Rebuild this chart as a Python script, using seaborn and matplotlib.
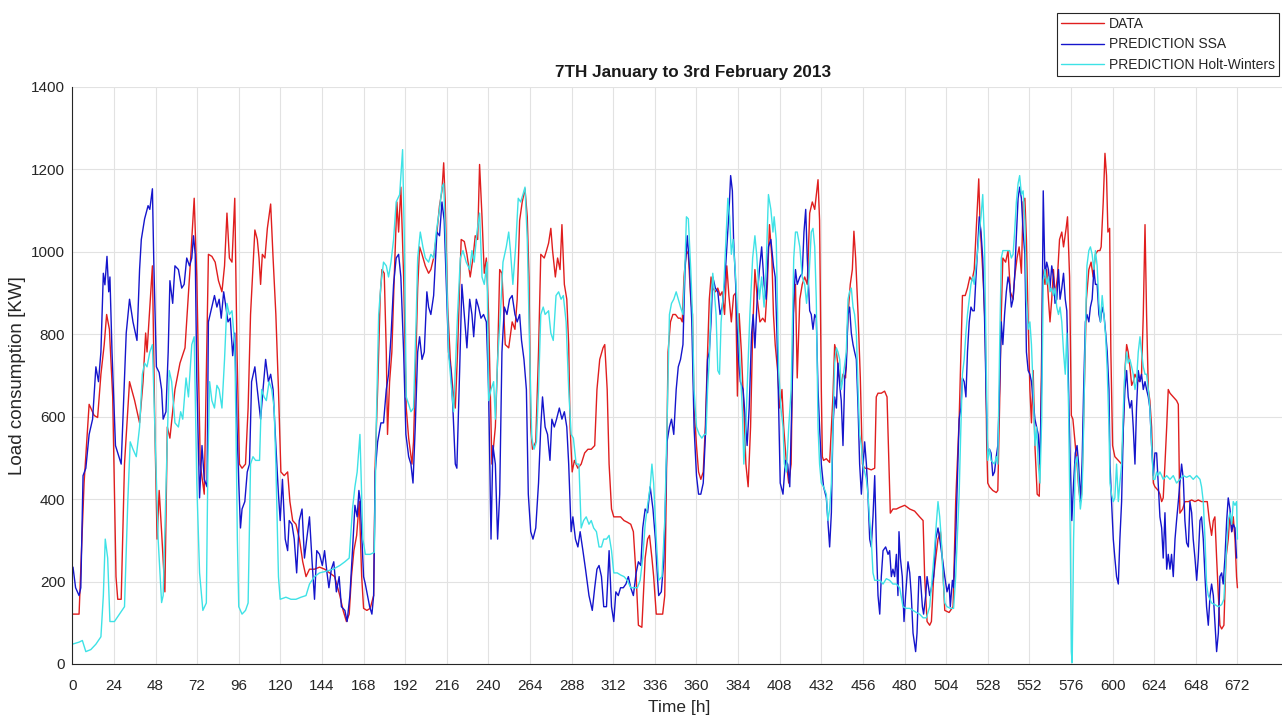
import matplotlib
matplotlib.use("Agg")
import matplotlib.pyplot as plt
import seaborn as sns

# values (hour, kW)
data_hours = [
    0, 3.9, 6.8, 9.7, 12.6, 14.6, 16.5, 18.4, 19.8, 21.4, 23.3, 25.2, 26.2, 28.2, 30.1, 33, 35.9, 38.8, 40.8, 42.3,
    43.1, 44.7, 46.2, 47.6, 48.9, 50.1, 51.5, 53.4, 54.8, 56.3, 59.2, 62.1, 65, 68, 70.3, 71.8, 73.8, 76.1,
    78.5, 80.5, 82.4, 84.3, 86.3, 87.8, 89.2, 90.6, 92.1, 93.7, 95, 96.4, 97.9, 99.9, 101.4, 102.8, 105.3, 106.7,
    107.7, 108.6, 109.6, 111.1, 112.5, 114.4, 115.8, 117.4, 118.9, 120.3, 122.2, 124.2, 125.5, 127.1, 129, 131,
    132.9, 134.8, 136.8, 139.7, 142.6, 145.5, 148.4, 151.3, 154.3, 156.2, 158.1, 159.7, 161, 162.4, 164, 165.5, 166.9,
    168, 169.9, 171.8, 173.8, 174.7, 176.1, 177.6, 178.6, 179.9, 181.1, 181.8, 183, 184.3, 185.9, 187.2, 188.2,
    189.5, 191.1, 192.6, 194, 195.9, 196.8, 197.8, 199.2, 200.3, 201.7, 203.6, 205.5, 206.8, 208.4, 210.3, 211.8,
    213.2, 214.2, 215.1, 216.5, 218, 219.5, 220.9, 222.2, 223.4, 224.3, 226.1, 227.6, 229.5, 231.1, 232.4, 233.8,
    234.9, 236.3, 237.6, 238.8, 240.1, 242, 244, 245.3, 246.5, 247.8, 249.7, 251.7,
    253.7, 255.3, 256.6, 258, 259.5, 261.1, 262.4, 263.4, 264.4, 265.4, 267.3, 268.9, 270.2, 272.2, 273.5, 274.7,
    276, 277, 278.6, 279.9, 281.3, 282.4, 283.8, 285.2, 286.3, 287.1, 288.3, 289.6, 291.6, 293.5, 295.5, 297.4,
    299.3, 301.3, 302.6, 304.2, 306.1, 307.1, 308.5, 309.6, 311, 312.3, 314.3, 316.2, 318.2, 320.1, 322.1, 323.6,
    325.2, 326.5, 328.5, 330.4, 331.8, 332.9, 334.3, 335.3, 336.8,
    338.2, 340.5, 341.7, 342.5, 343.6, 345, 346.4, 347.9, 349.5, 350.8, 351.8, 352.8, 354.2, 355.3, 356.7, 357.7,
    358.6, 360, 361.2, 362.5, 363.9, 365.1, 366.4, 367.4, 368.4, 369.4, 370.9, 372.3, 373.6, 374.8, 376.2, 377.5,
    378.7, 380.1, 381.4, 382.6, 383.6, 384.6, 385.9, 387.3, 388.5, 389.8, 391.2, 392.4, 393.7, 395.1, 396.6, 398.2,
    399.6, 400.9, 402.1, 403.5, 404.4, 405.4, 406.8, 408, 409.3, 410.3, 411.9, 413.2, 414.6, 415.8, 417.1, 418.1,
    419.6, 421, 422.4, 423.9,
    425.3, 426.8, 428.2, 430.1, 431, 432, 432.6, 433.3, 434.9, 436.8, 437.8, 438.7, 439.7, 440.7, 442.2, 443.5,
    444.5, 446, 447.4, 448.7, 449.9, 450.8, 451.8, 453.2, 454.5, 455.7, 457, 458.3, 460.8, 462.8, 463.7, 464.7,
    466.6, 468.5, 469.9, 471, 471.8, 473.3, 475.3, 477.2, 480.1, 483, 485.8, 488.7, 490.7, 491.6, 493, 494.5,
    495.5, 496.8, 498, 499.3, 500.7, 501.8, 503.2, 505.7, 508, 509.5,
    511.5, 512.5, 513.4, 515, 516.3, 517.7, 518.9, 520.2, 521.6, 522.8, 523.5, 524.7, 525.5, 526.6, 527.4, 528,
    529, 530.9, 532.9, 533.8, 534.8, 535.8, 536.7, 538.3, 539.7, 541, 542.6, 543.5, 544.9, 546.1, 547.4, 548.4,
    549.4, 550.3, 551.3, 552.3, 553.2, 554.2, 555.2, 556.5, 557.7, 558.5, 559.7, 561, 562, 563, 563.9, 564.9,
    565.9, 566.8, 568.2, 569.4, 570.7, 571.7, 573.2, 574, 575.2, 576.2, 577.1, 578.5, 579.5, 580.4, 581.4, 582.4,
    583.7, 584.9, 586.3, 587.6, 588.8, 590.1, 591.5, 592.7, 593.4, 594.6, 595.6, 596.5, 597.3, 598.3,
    599, 600, 601.3, 603.3, 605.2, 606.2, 607.1, 608.1, 609, 610, 611, 611.9, 612.9, 613.8, 615.4, 616.7, 617.7,
    618.7, 619.6, 620.6, 621.5, 622.5, 623.5, 624.4, 626.3, 627.3, 628.3, 629.2, 630.2, 631.2, 632.1, 633.1, 635,
    636.9, 637.9, 638.8, 640.4, 641.7, 643.7, 645.6, 647.5, 649.4, 651.3, 653.3, 654.6, 655.8, 657.1, 658.1, 659,
    660, 661, 661.9, 662.9, 664.2, 665.4, 666.7, 667.7, 668.7, 669.6, 670.6, 671.5, 672,
]
data_kw = [
    121, 121, 440, 630, 603, 598, 703, 775, 848, 812, 648, 212, 157, 157, 485, 685, 640, 585, 685, 803,
    757, 866, 966, 575, 303, 421, 321, 175, 575, 548, 666, 730, 767, 966, 1130, 939, 485, 412,
    994, 989, 975, 930, 903, 966, 1094, 985, 975, 1130, 757, 485, 475, 485, 621, 848, 1053, 1030,
    985, 921, 994, 985, 1057, 1116, 985, 848, 666, 466, 457, 466, 394, 348, 339, 303,
    248, 212, 230, 230, 235, 230, 221, 212, 166, 130, 103, 121, 212, 275, 312, 394, 212,
    135, 130, 135, 166, 485, 666, 894, 957, 948, 757, 557, 685, 757, 966, 1121, 1048,
    1157, 939, 621, 548, 485, 539, 685, 912, 1012, 994, 966, 948, 957, 985, 1048, 1112,
    1148, 1216, 1121, 866, 739, 666, 621, 757, 921, 1030, 1025, 994, 939, 985, 1039, 1030,
    1212, 1085, 948, 985, 848, 485, 575, 739, 957, 948, 775, 767,
    830, 812, 885, 1076, 1121, 1153, 1085, 939, 575, 521, 539, 757, 994, 985, 1003, 1021,
    1057, 1003, 939, 985, 957, 1066, 921, 885, 775, 575, 466, 494, 475, 485, 512, 521,
    521, 530, 666, 739, 767, 775, 666, 485, 376, 357, 357, 357, 348, 344, 339, 321,
    212, 94, 89, 257, 303, 312, 257, 212, 121,
    121, 121, 166, 394, 757, 830, 848, 848, 839, 839, 830, 939, 1003, 994, 885, 848,
    621, 530, 466, 448, 466, 575, 757, 885, 939, 912, 903, 912, 894, 903, 848, 966,
    894, 830, 894, 900, 650, 850, 757, 621, 485, 430, 575, 803, 957, 885, 830, 839,
    830, 921, 1066, 985, 848, 775, 712, 621, 666, 575, 485, 439, 485, 848, 921, 694,
    885, 921, 939, 921,
    1094, 1121, 1103, 1175, 1076, 666, 503, 494, 498, 489, 575, 648, 775, 757, 703, 676,
    703, 694, 848, 921, 957, 1050, 985, 848, 694, 485, 475, 475, 471, 475, 648, 657,
    657, 662, 648, 485, 366, 376, 376, 380, 385, 376, 371, 357, 348, 212, 103, 94,
    103, 212, 257, 303, 321, 257, 130, 125, 139, 394,
    594, 757, 894, 894, 912, 939, 930, 957, 1076, 1177, 1076, 985, 921, 803, 530, 439,
    430, 421, 416, 421, 621, 848, 985, 975, 1003, 903, 885, 939, 985, 1012, 948, 1121,
    1130, 1030, 830, 666, 585, 712, 530, 412, 407, 575, 957, 921, 957, 885, 830, 885,
    957, 894, 939, 1030, 1048, 1012, 1057, 1085, 939, 603, 594, 530, 485, 430, 394, 439,
    666, 885, 957, 975, 939, 994, 1003, 1003, 1012, 1121, 1239, 1185, 1048, 1057,
    757, 530, 503, 494, 485, 575, 712, 775, 757, 721, 676, 685, 703, 694, 685, 703, 848,
    1066, 848, 666, 639, 575, 439, 430, 421, 412, 394, 403, 485, 575, 666, 657, 648,
    639, 630, 366, 376, 394, 394, 398, 394, 398, 394, 394, 394, 348, 312, 348, 357,
    257, 166, 94, 85, 94, 257, 303, 366, 321, 357, 303, 212, 185,
]

ssa_hours = [
    0.4, 1.9, 3.9, 4.9, 6.2, 7.8, 9.7, 11.7, 13.6, 15.1, 16.5, 17.9, 18.8, 20, 21, 21.7, 22.9, 24.9, 26.2, 28.2,
    31.1, 33, 35, 37.3, 38.8, 39.8, 41.7, 43.7, 44.7, 46.2, 47, 48.5, 50.1, 51.5, 52.4, 54, 55.3, 56.3, 57.9,
    59.2, 61.2, 63.1, 64.5, 66, 67.6, 68.9, 69.9, 70.9, 71.8, 73.4, 74.8, 76.1, 77.7,
    78.5, 80.5, 82, 83.4, 84.7, 85.9, 87.3, 88.6, 89.8, 91.1, 92.5, 93.7, 95, 96, 97, 97.9, 99.5, 100.9, 102.2,
    103.4, 105.3, 106.7, 108.6, 110, 111.5, 113.1, 114.4, 115.8, 117.4, 118.9, 119.9, 121.2, 122.8, 124.2, 125.1,
    126.7, 128, 129.4, 130.9, 132.5, 133.9, 135.2, 136.8, 138.3, 139.7, 141, 142.6, 144.2, 145.5, 146.9, 148,
    149.4, 150.8, 152.3, 153.9, 155.2, 157.2, 158.5, 160.1, 161.6, 163, 164.3, 165.3,
    166.1, 168, 169, 170.3, 171.5, 172.8, 173.8, 174.7, 176.1, 178, 179.5, 181.1, 182.4, 183.8, 185.3, 186.8,
    188.2, 189.5, 191.1, 192.4, 194, 195.3, 196.5, 197.8, 199.2, 200.3, 201.7, 203, 204.5, 205.5, 206.8, 208.4,
    210.3, 211.8, 213.2, 214.5, 215.7, 217, 218.4, 219.5, 220.9, 221.8, 223.4, 224.7, 226.1, 227.6, 229.2, 230.5,
    231.5, 233, 234.3, 235.7, 237.2, 238.8, 240.1, 241.5, 242.6, 244, 245.3, 246.5, 247.8, 249.2, 250.7, 252.2,
    253.7, 255.3, 256.6, 258, 259.1, 260.5, 261.9, 263, 264.4, 265.7, 267.3, 268.9, 270.2, 271.2, 272.7, 274.1,
    275.5, 276.6, 278, 279.3, 280.9, 282.4, 283.8, 285.2, 286.3, 287.7, 288.7, 290.2, 291.6, 292.9, 294.5, 296,
    298, 299.9, 301.3, 302.6, 303.8, 305.2, 306.5, 308.1, 309.6, 311, 312.3, 313.5, 314.9, 316.2, 317.8, 319.3,
    320.7, 322.1, 323.6, 325.2, 326.5, 327.9, 329, 330.4, 331.8, 333.3, 334.9, 336.3, 337.6,
    338.2, 339.7, 341.1, 342.1, 343, 344.4, 345.6, 346.9, 348.3, 349.5, 350.8, 352.2, 353.4, 354.7, 356.1, 357.3,
    358.6, 360, 361.2, 362.5, 363.9, 365.1, 366.4, 367.4, 368.4, 369.4, 370.9, 372.3, 373.6, 374.8, 376.2, 377.5,
    378.7, 379.7, 380.7, 381.4, 382.6, 384, 385.3, 386.9, 388.5, 389.2, 390.4, 391.8, 392.7, 393.7, 395.1, 396.3,
    397.6, 399, 400.2, 401.5, 402.9, 404.4, 405.4, 406.4, 407.4, 408.3, 409.9, 411.3, 412.6, 413.8, 415.2, 416.1,
    417.1, 418.1, 419.6, 421, 422, 423, 423.9,
    425.3, 426.2, 427.2, 428.2, 429.1, 430.1, 431, 432, 433.3, 434.9, 435.8, 436.8, 437.8, 438.7, 439.7, 440.7,
    441.6, 442.6, 443.5, 444.5, 445.5, 446.4, 447.4, 448.3, 449.3, 450.3, 451.2, 452.2, 453.2, 454.1, 455.1, 456,
    457, 458, 458.9, 459.9, 460.8, 461.8, 462.8, 463.7, 464.7, 465.7, 466.6, 467.6, 469.1, 470.5, 471.4, 472.4,
    473.3, 474.3, 475.3, 476.2, 476.8, 477.6, 478.7, 479.7, 480.6, 482, 483, 483.9, 484.9, 486.4, 487.2, 488.3,
    489.1, 490.3, 491, 492.2, 493, 494.5, 495.5, 496.8, 498, 499.3, 500.3, 501.8, 503.2, 504.5, 505.7, 506.4,
    507.6, 508.3, 509.5,
    511.5, 512.5, 513.4, 514.4, 515.4, 516.3, 517.3, 518.3, 519.3, 520.2, 521.2, 522.2, 523.1, 524.1, 525.1, 526.1,
    527, 528, 529, 529.9, 530.9, 531.9, 532.9, 533.8, 534.8, 535.8, 536.7, 537.7, 538.7, 539.7, 540.6, 541.6,
    542.6, 543.5, 544.5, 545.5, 546.4, 547.4, 548.4, 549.4, 550.3, 551.3, 552.3, 553.2, 554.2, 555.2, 556.2, 557.1,
    558.1, 559.1, 560, 561, 562, 563, 563.9, 564.9, 565.9, 566.8, 567.8, 568.8, 569.7, 570.7, 571.7, 572.7,
    573.6, 574.6, 575.6, 576.5, 577.5, 578.5, 579.5, 580.4, 581.4, 582.4, 583.3, 584.3, 585.2, 586.3, 587.2, 588.2,
    589.2, 590.1, 591.1, 592.1, 593, 594, 595, 596, 596.9, 597.9,
    598.5, 599.4, 600.4, 601.3, 602.3, 603.3, 604.2, 605.2, 606.2, 607.1, 608.1, 609, 610, 611, 611.9, 612.9,
    613.8, 614.8, 615.8, 616.7, 617.7, 618.7, 619.6, 620.6, 621.5, 622.5, 623.5, 624.4, 625.4, 626.3, 627.3, 628.3,
    629.2, 630.2, 631.2, 632.1, 633.1, 634, 635, 636, 636.9, 637.9, 638.8, 639.8, 640.8, 641.7, 642.7, 643.7,
    644.6, 645.6, 646.5, 647.5, 648.5, 649.4, 650.4, 651.3, 652.3, 653.3, 654.2, 655.2, 656.2, 657.1, 658.1, 659,
    660, 661, 661.9, 662.9, 663.8, 664.8, 665.8, 666.7, 667.7, 668.7, 669.6, 670.6, 671.5,
]
ssa_kw = [
    235, 185, 166, 185, 457, 475, 557, 594, 721, 685, 757, 948, 920, 989, 903, 939, 757, 530, 512, 485,
    803, 885, 830, 785, 957, 1030, 1080, 1112, 1103, 1153, 975, 721, 707, 666, 594, 612, 757, 930, 875,
    966, 957, 912, 921, 985, 966, 985, 1039, 994, 694, 403, 530, 448, 430,
    830, 866, 894, 866, 885, 839, 903, 866, 830, 839, 748, 803, 575, 439, 330, 376, 394, 466, 485,
    685, 721, 666, 594, 666, 739, 685, 703, 666, 530, 412, 348, 448, 303, 275, 348,
    339, 303, 221, 348, 376, 257, 303, 357, 248, 157, 275, 266, 239, 275, 221, 185,
    230, 248, 175, 212, 139, 130, 103, 166, 275, 385, 357, 421,
    394, 212, 194, 166, 139, 121, 166, 466, 539, 585, 585, 666, 703, 794, 921, 985,
    994, 939, 757, 557, 503, 485, 439, 575, 757, 794, 739, 757, 903, 866, 848, 894,
    1048, 1039, 1121, 1076, 921, 757, 712, 621, 485, 475, 712, 921, 848, 767, 885, 848,
    794, 885, 866, 839, 848, 830, 666, 303, 530, 485, 303, 412, 757, 866, 848, 885,
    894, 848, 830, 848, 785, 739, 666, 412, 321, 303, 330, 439, 575, 648, 575, 557,
    494, 594, 575, 594, 621, 594, 612, 575, 485, 321, 357, 303, 284, 321, 275, 230,
    166, 130, 185, 230, 239, 212, 139, 139, 275, 139, 103, 175, 166, 185, 185, 194,
    212, 185, 166, 221, 248, 239, 330, 376, 367, 430, 376, 303, 203,
    166, 175, 248, 394, 539, 575, 594, 557, 666, 721, 739, 775, 957, 1039, 957, 830,
    575, 457, 412, 412, 439, 548, 739, 757, 830, 939, 912, 903, 848, 866, 921, 1012,
    1094, 1185, 1148, 1030, 921, 757, 685, 666, 575, 530, 621, 803, 848, 767, 894, 957,
    1012, 921, 885, 1012, 1030, 966, 939, 803, 621, 439, 412, 494, 485, 430, 666, 885,
    957, 921, 939, 948, 1048, 1103, 985,
    857, 848, 812, 848, 839, 666, 575, 485, 430, 403, 348, 284, 367, 575, 648, 621,
    730, 676, 639, 530, 694, 721, 848, 866, 803, 775, 757, 739, 621, 485, 412, 475,
    539, 485, 412, 303, 284, 357, 457, 303, 166, 121, 212, 275, 284, 266, 275, 212,
    230, 212, 266, 166, 321, 257, 212, 103, 166, 248, 221, 166, 75, 30, 75, 212,
    212, 139, 121, 166, 212, 166, 185, 212, 303, 330, 303, 257, 212, 175, 194, 139,
    203, 185, 303,
    594, 621, 694, 685, 648, 757, 830, 866, 857, 857, 939, 1012, 1085, 1048, 985, 848,
    666, 503, 521, 512, 457, 466, 503, 530, 666, 830, 775, 848, 903, 939, 921, 866,
    885, 939, 1039, 1130, 1157, 1130, 1048, 994, 757, 712, 703, 685, 639, 594, 575, 557,
    485, 694, 1148, 939, 975, 957, 912, 966, 939, 875, 885, 957, 885, 912, 948, 885,
    857, 666, 485, 348, 439, 512, 530, 485, 394, 485, 666, 830, 848, 830, 866, 885,
    957, 921, 921, 848, 830, 866, 848, 803, 757, 666,
    485, 394, 303, 257, 212, 194, 303, 394, 575, 666, 712, 648, 621, 639, 575, 485,
    621, 712, 685, 703, 666, 685, 666, 648, 621, 530, 457, 512, 512, 439, 357, 330,
    257, 367, 230, 266, 230, 266, 212, 303, 348, 394, 439, 485, 448, 348, 294, 284,
    394, 367, 303, 257, 203, 257, 348, 357, 303, 212, 139, 94, 166, 194, 166, 103,
    30, 75, 212, 221, 194, 257, 348, 403, 376, 321, 339, 330, 257,
]

hw_hours = [
    0, 3.9, 5.8, 7.8, 10.7, 13.6, 16.5, 17.9, 19, 20.4, 21.7, 24.3, 27.2, 30.1, 32, 33.4, 35, 36.9, 38.8, 40.4,
    41.7, 43.1, 44.7, 46.2, 47.6, 49.5, 51.5, 52.4, 54.4, 55.9, 57.3, 59.2, 61.2, 62.5, 63.7, 65.6, 67, 68.9,
    70.3, 71.8, 73.4, 75.3, 77.3, 78.2,
    79.2, 80.5, 82, 83.4, 84.7, 86.3, 87.8, 89.2, 90.6, 92.1, 93.7, 94.4, 95.2, 96, 97.9, 99.9, 101.4, 102.8,
    104.2, 105.7, 108, 109.2, 110.6, 111.9, 113.5, 115, 116.4, 117.4, 118.9, 119.9, 123.2, 126.1, 129, 131.9,
    134.8, 136.8, 139.7, 142.6, 146.5, 150.4, 154.3, 157.2, 159.7, 161.6, 163, 164.3, 165.9,
    167.6, 169, 171.8, 174.2, 175.3, 176.7, 178, 179.5, 181.1, 182.4, 183.8, 185.3, 186.8, 188.8, 189.5, 190.5,
    191.5, 192.6, 194, 195.3, 196.8, 198.4, 199.2, 200.7, 202.2, 203.6, 205.5, 206.8, 208.4, 209.9, 211.8, 213.2,
    214.2, 215.7, 217, 218.4, 219.9, 220.9, 222.2, 223.8, 225.3, 227.2, 229.2, 230.5, 231.8, 233.4, 234.9, 236.3,
    237.6, 239.2, 240.1, 241.5, 243, 244, 245.3, 246.9, 248.4, 250.3, 251.7,
    252.7, 254.1, 255.7, 257.2, 258.6, 259.9, 261.1, 262.4, 263.8, 265, 266.3, 267.7, 268.9, 270.2, 271.6, 272.7,
    274.7, 276, 277.4, 279, 280.5, 281.9, 283.2, 284.8, 286.3, 287.7, 289, 290.6, 292.2, 293.5, 294.9, 296.4,
    298, 299.3, 300.7, 302.3, 303.8, 305.2, 306.5, 308.1, 309.6, 311, 312.3, 314.3, 316.2, 318.2, 320.1, 322.1,
    324, 325.9, 327.5, 329, 330.4, 331.8, 333.3, 334.3, 335.3, 336.8,
    338.2, 340.1, 341.7, 343, 344.4, 345.6, 346.9, 348.3, 349.5, 350.8, 352.2, 353.4, 354.2, 355.3, 356.7, 357.7,
    358.6, 360, 361.6, 363.1, 364.5, 365.5, 366.4, 367.4, 368.4, 369.4, 370.3, 371.3, 372.3, 373.3, 374.2, 375.6,
    376.8, 378.1, 379.1, 380.1, 381.1, 382.6, 384, 385.3, 386.5, 387.3, 388.5, 389.2, 390.8, 392.4, 393.7, 394.7,
    396.3, 397.6, 399, 400.2, 401.5, 402.9, 404.1, 404.8, 406, 407.4, 408.7, 409.9, 410.7, 411.9, 413.2, 414.6,
    416.1, 417.1, 418.1, 419.6, 421, 422.4, 423.5, 424.9,
    426.2, 427.2, 428.2, 429.1, 430.1, 431, 432, 433.3, 434.9, 435.8, 436.8, 437.8, 438.7, 439.7, 440.7, 441.6,
    442.6, 443.5, 444.5, 446.4, 447.4, 448.3, 449.3, 450.3, 451.2, 452.2, 453.2, 454.1, 455.1, 456, 457, 458,
    458.9, 459.9, 460.8, 461.8, 462.8, 465.7, 467.6, 469.5, 471.4, 473.3, 475.3, 477.2, 479.1, 481, 483, 484.9,
    486.8, 488.7, 490.7, 492.6, 494.5, 496, 497.4, 498.3, 499.3, 500.3, 501.2, 502.2, 503.2, 504.5, 506.4, 508.3,
    509.5,
    511.5, 512.5, 513.4, 514.4, 515.4, 516.3, 517.3, 518.3, 519.3, 520.2, 521.2, 522.2, 523.1, 524.1, 525.1, 526.1,
    527, 528, 529, 529.9, 531.9, 532.9, 533.8, 534.8, 535.8, 536.7, 538.7, 540.6, 541.6, 542.6, 543.5, 544.5,
    545.5, 546.4, 547.4, 548.4, 549.4, 550.3, 551.3, 552.3, 553.2, 554.2, 555.2, 556.2, 557.1, 558.1, 559.1, 560,
    561, 562, 563, 563.9, 564.9, 565.9, 566.8, 567.8, 568.8, 569.7, 570.7, 571.7, 572.7, 573.6, 574.6, 575.6,
    576.2, 576.7, 577.5, 578.5, 579.5, 580.4, 581.4, 582.4, 583.3, 584.3, 585.2, 586.3, 587.2, 588.2, 589.2, 590.1,
    591.1, 592.1, 593, 594, 595, 596, 596.9, 597.9,
    598.5, 599.4, 600.4, 601.3, 602.3, 603.3, 604.2, 605.2, 606.2, 607.1, 608.1, 609, 610, 611, 611.9, 612.9,
    613.8, 614.8, 615.8, 616.7, 617.7, 618.7, 619.6, 620.6, 621.5, 622.5, 623.5, 624.4, 625.4, 626.3, 627.3, 628.3,
    629.2, 631.2, 633.1, 635, 636.9, 638.8, 640.8, 642.7, 644.6, 646.5, 648.5, 650.4, 651.3, 652.3, 653.3, 654.2,
    655.2, 657.1, 659, 661, 662.9, 664.2, 665.4, 666.7, 667.7, 668.7, 669.6, 670.6, 671.5, 672,
]
hw_kw = [
    48, 53, 57, 30, 35, 48, 66, 166, 303, 257, 103, 103, 121, 139, 394, 539, 521, 503, 575, 703,
    730, 721, 757, 775, 575, 303, 149, 166, 485, 712, 685, 585, 575, 612, 594, 694, 648, 775,
    794, 439, 221, 130, 148, 485,
    685, 639, 621, 676, 666, 621, 739, 875, 848, 857, 775, 575, 303, 139, 121, 130, 148, 485,
    503, 494, 494, 666, 648, 639, 685, 666, 621, 485, 212, 157, 162, 157, 157, 162,
    166, 194, 212, 221, 225, 230, 239, 248, 257, 376, 430, 466, 557,
    303, 266, 266, 271, 575, 848, 921, 975, 966, 939, 975, 1030, 1121, 1139, 1185, 1248,
    1030, 648, 630, 612, 621, 848, 985, 1048, 1012, 985, 975, 994, 985, 1048, 1103, 1157,
    1166, 985, 757, 685, 612, 712, 848, 985, 1003, 975, 957, 1003, 975, 1048, 1094, 939,
    921, 975, 639, 666, 685, 594, 739, 848, 975, 1012, 1048,
    1003, 921, 1012, 1130, 1121, 1139, 1157, 1030, 757, 548, 521, 539, 666, 848, 866, 848,
    857, 803, 785, 894, 903, 885, 894, 830, 666, 557, 548, 485, 485, 330, 348, 357,
    339, 348, 330, 321, 284, 284, 303, 303, 312, 275, 221, 221, 216, 212, 203, 185,
    185, 185, 203, 257, 339, 385, 430, 485, 439, 303,
    203, 212, 348, 575, 848, 875, 885, 903, 885, 866, 848, 975, 1085, 1080, 957, 848,
    666, 575, 557, 548, 557, 557, 666, 739, 875, 948, 903, 848, 712, 703, 830, 903,
    1012, 1130, 1085, 994, 1030, 939, 830, 712, 612, 485, 575, 666, 848, 985, 1039, 994,
    885, 939, 866, 966, 1139, 1103, 1048, 1085, 1030, 712, 621, 575, 485, 466, 575, 666,
    985, 1048, 1048, 1012, 939, 921, 875, 939,
    1048, 1057, 1012, 885, 575, 485, 439, 430, 412, 348, 376, 439, 575, 730, 767, 757,
    739, 666, 694, 757, 885, 903, 912, 866, 848, 803, 666, 557, 530, 485, 466, 448,
    412, 348, 303, 221, 203, 203, 194, 207, 203, 194, 194, 185, 139, 135, 135, 130,
    125, 121, 112, 112, 139, 212, 284, 339, 394, 357, 303, 212, 148, 139, 135, 135,
    212,
    412, 575, 703, 739, 803, 848, 885, 921, 939, 921, 966, 1003, 1048, 1085, 1139, 1030,
    757, 494, 521, 494, 485, 503, 485, 757, 985, 1003, 1003, 1003, 985, 994, 1048, 1121,
    1166, 1185, 1139, 1148, 1076, 885, 812, 830, 775, 666, 530, 575, 485, 439, 594, 930,
    957, 921, 939, 903, 912, 894, 912, 866, 848, 866, 830, 757, 703, 803, 621, 303,
    30, 3, 303, 485, 503, 439, 376, 412, 575, 803, 966, 1003, 1012, 994, 957, 1003,
    966, 875, 830, 894, 848, 794, 712, 575,
    439, 412, 394, 403, 485, 394, 439, 485, 621, 712, 757, 730, 739, 721, 703, 666,
    685, 757, 794, 757, 721, 703, 703, 666, 621, 530, 448, 448, 466, 457, 466, 457,
    448, 457, 448, 457, 439, 448, 457, 453, 457, 448, 457, 448, 430, 394, 303, 194,
    166, 148, 144, 139, 144, 157, 257, 348, 367, 339, 394, 385, 394, 303,
]

x_ticks = list(range(0, 673, 24))
y_ticks = list(range(0, 1401, 200))

sns.set_theme(style="white")
plt.rcParams["font.family"] = ["Liberation Sans", "DejaVu Sans"]

fig = plt.figure(figsize=(12.82, 7.2), dpi=100)
ax = fig.add_axes([0.0564, 0.0778, 0.9467, 0.8014])

sns.lineplot(x=data_hours, y=data_kw, ax=ax, color="#e01e1e", linewidth=1.0,
             label="DATA", estimator=None, sort=False)
sns.lineplot(x=ssa_hours, y=ssa_kw, ax=ax, color="#1515cc", linewidth=1.0,
             label="PREDICTION SSA", estimator=None, sort=False)
sns.lineplot(x=hw_hours, y=hw_kw, ax=ax, color="#3ee2e6", linewidth=1.0,
             label="PREDICTION Holt-Winters", estimator=None, sort=False)

ax.set_xlim(0, 700)
ax.set_ylim(0, 1400)
ax.set_xticks(x_ticks)
ax.set_yticks(y_ticks)
ax.grid(True, color="#e2e2e2", linewidth=0.8)
ax.set_axisbelow(True)
for side in ["top", "right"]:
    ax.spines[side].set_visible(False)
for side in ["left", "bottom"]:
    ax.spines[side].set_color("#262626")
    ax.spines[side].set_linewidth(0.8)
ax.tick_params(axis="both", direction="in", length=5, width=0.8, color="#262626",
               labelcolor="#262626", labelsize=11)
ax.tick_params(axis="x", pad=11)
ax.tick_params(axis="y", pad=5)

title = ax.set_title("7TH January to 3rd February 2013", fontsize=12.3, fontweight="bold",
                     color="#1a1a1a", pad=7)
title.set_x(0.5115)
ax.set_xlabel("Time [h]", fontsize=12.5, color="#262626", labelpad=5)
ax.set_ylabel("Load consumption [KW]", fontsize=13.5, color="#262626", labelpad=3.5)

handles, labels = ax.get_legend_handles_labels()
if ax.get_legend() is not None:
    ax.get_legend().remove()
leg = fig.legend(handles, labels, loc="upper right", bbox_to_anchor=(0.9977, 0.982),
                 fontsize=10, frameon=True, fancybox=False, framealpha=1,
                 edgecolor="#262626", handlelength=3.1, handletextpad=0.35,
                 labelspacing=0.45, borderpad=0.3, borderaxespad=0)
leg.get_frame().set_linewidth(0.8)
for t in leg.get_texts():
    t.set_color("#262626")

fig.savefig("out.png", dpi=100)
